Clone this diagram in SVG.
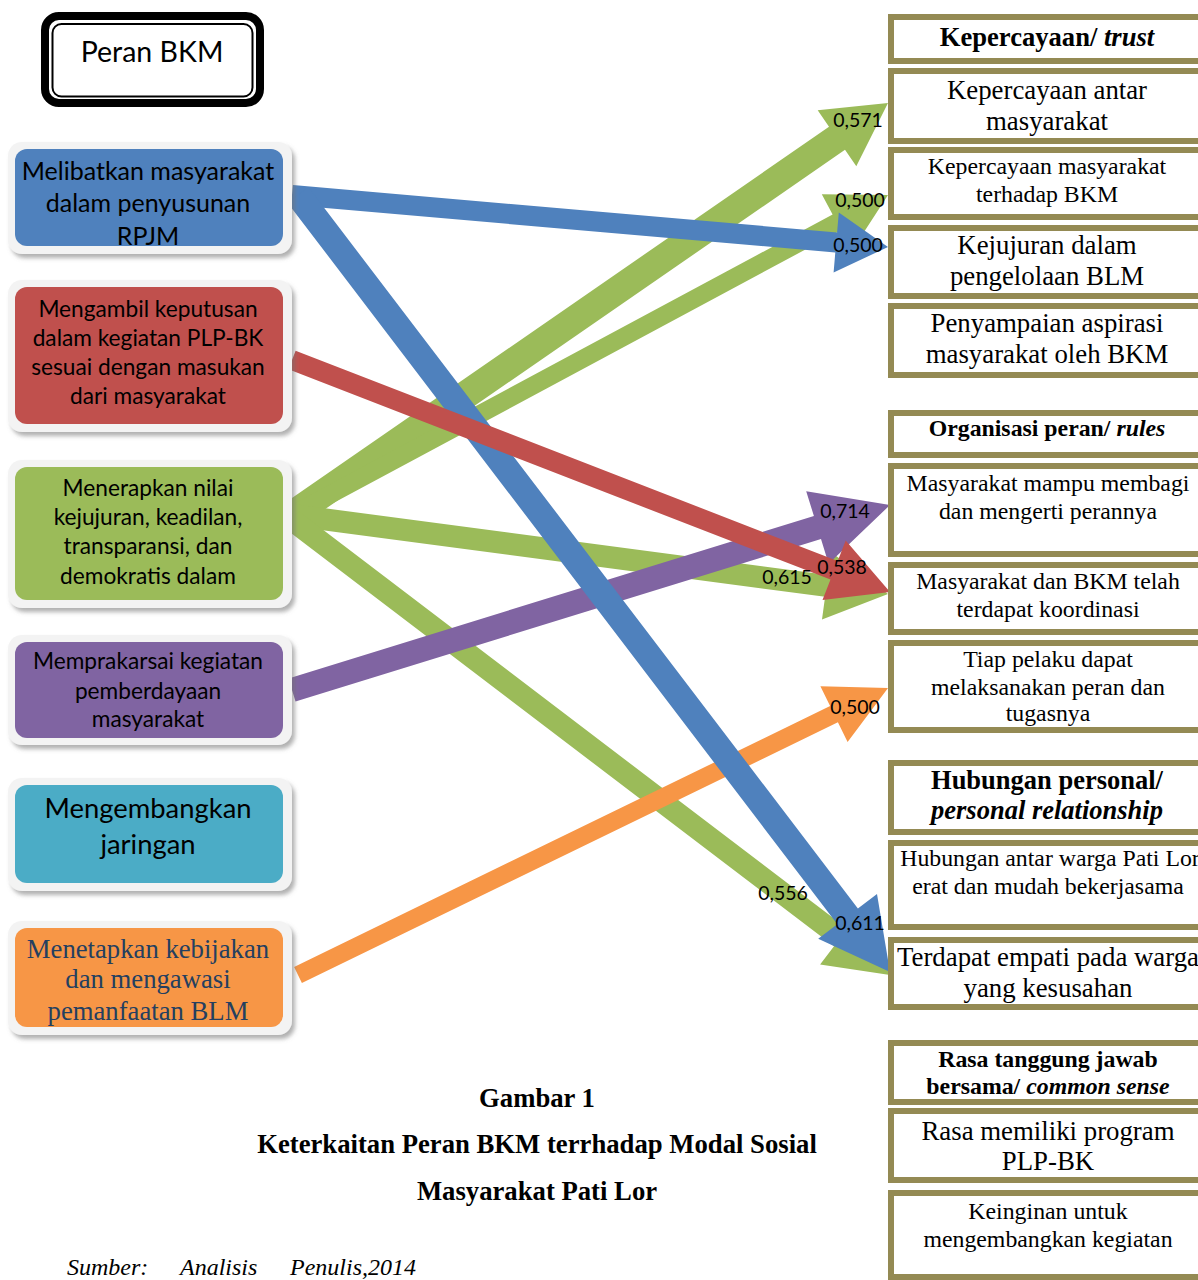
<svg xmlns="http://www.w3.org/2000/svg" width="1198" height="1280" viewBox="0 0 1198 1280">
<defs>
<style>
.frame{fill:#f3f3f3;filter:url(#sh)}
.cal{font-family:Lato,"Open Sans","Liberation Sans",sans-serif;fill:#000;text-anchor:middle}
.tnr{font-family:"Liberation Serif","Times New Roman",serif;fill:#000;text-anchor:middle}
.rbox{fill:#fff;stroke:#948a54;stroke-width:6}
.lbl{font-family:Lato,"Open Sans","Liberation Sans",sans-serif;font-size:19.5px;fill:#000;text-anchor:middle}
.b{font-weight:bold}
.i{font-style:italic}
.s1{font-size:23.8px}
.s2{font-size:26.8px}
</style>
<filter id="sh" x="-10%" y="-10%" width="125%" height="130%">
<feDropShadow dx="3" dy="4" stdDeviation="2" flood-color="#6f6f6f" flood-opacity="0.55"/>
</filter>
<clipPath id="c1"><rect x="15" y="149" width="268" height="97" rx="12"/></clipPath>
<clipPath id="c6"><rect x="15" y="928" width="268" height="99" rx="12"/></clipPath>
</defs>
<rect width="1198" height="1280" fill="#fff"/>

<g id="connectors">
<polygon fill="#9bbb59" points="300.0,526.5 845.0,149.8 856.3,166.3 888,103 817.7,110.3 829.0,126.8 284.0,503.5"/>
<polygon fill="#9bbb59" points="296.3,522.9 841.2,230.3 852.0,250.6 888,195 821.8,194.2 832.6,214.5 287.7,507.1"/>
<polygon fill="#9bbb59" points="290.6,525.9 825.1,596.8 822.0,619.6 888,594 831.0,552.2 828.0,575.0 293.5,504.1"/>
<polygon fill="#9bbb59" points="285.3,528.8 834.0,946.3 820.1,964.6 890,975 861.3,910.4 847.4,928.8 298.7,511.3"/>
<polygon fill="#8064a2" points="295.5,701.5 821.0,539.0 828.6,563.8 890,505 806.2,491.2 813.9,516.0 288.5,678.5"/>
<polygon fill="#f79646" points="301.9,983.1 837.9,722.3 847.6,742.1 888,688 820.4,686.3 830.1,706.1 294.1,966.9"/>
<polygon fill="#4f81bd" points="291.1,205.0 835.3,252.5 833.6,272.4 888,247 838.8,212.6 837.1,232.5 292.9,185.0"/>
<polygon fill="#4f81bd" points="287.7,202.9 837.3,924.2 818.2,938.7 890,972 877.0,893.9 857.9,908.4 308.3,187.1"/>
<polygon fill="#c0504d" points="288.4,369.3 830.5,579.6 822.5,600.1 890,592 845.7,540.5 837.7,561.0 295.6,350.7"/>
</g>

<g id="title">
<rect x="45" y="16" width="215" height="87" rx="14" fill="#fff" stroke="#000" stroke-width="8"/>
<rect x="52.5" y="24" width="200" height="72.5" rx="9" fill="none" stroke="#000" stroke-width="2"/>
<text class="cal" x="152" y="62" font-size="28.5">Peran BKM</text>
</g>

<g id="n1">
<rect class="frame" x="8" y="142" width="284" height="112" rx="14"/>
<rect x="15" y="149" width="268" height="97" rx="12" fill="#4f81bd"/>
<g clip-path="url(#c1)">
<text class="cal" font-size="25"><tspan x="148" y="180">Melibatkan masyarakat</tspan><tspan x="148" y="212">dalam penyusunan</tspan><tspan x="148" y="245">RPJM</tspan></text>
</g>
</g>

<g id="n2">
<rect class="frame" x="8" y="280" width="284" height="152" rx="14"/>
<rect x="15" y="287" width="268" height="137" rx="12" fill="#c0504d"/>
<text class="cal" font-size="22.7"><tspan x="148" y="317">Mengambil keputusan</tspan><tspan x="148" y="346">dalam kegiatan PLP-BK</tspan><tspan x="148" y="375">sesuai dengan masukan</tspan><tspan x="148" y="404">dari masyarakat</tspan></text>
</g>

<g id="n3">
<rect class="frame" x="8" y="460" width="284" height="148" rx="14"/>
<rect x="15" y="467" width="268" height="133" rx="12" fill="#9bbb59"/>
<text class="cal" font-size="22.7"><tspan x="148" y="496">Menerapkan nilai</tspan><tspan x="148" y="525">kejujuran, keadilan,</tspan><tspan x="148" y="554">transparansi, dan</tspan><tspan x="148" y="584">demokratis dalam</tspan></text>
</g>

<g id="n4">
<rect class="frame" x="8" y="635" width="284" height="110" rx="14"/>
<rect x="15" y="642" width="268" height="96" rx="12" fill="#8064a2"/>
<text class="cal" font-size="22.7"><tspan x="148" y="669">Memprakarsai kegiatan</tspan><tspan x="148" y="699">pemberdayaan</tspan><tspan x="148" y="727">masyarakat</tspan></text>
</g>

<g id="n5">
<rect class="frame" x="8" y="778" width="284" height="113" rx="14"/>
<rect x="15" y="785" width="268" height="98" rx="12" fill="#4bacc6"/>
<text class="cal" font-size="27.4"><tspan x="148" y="818">Mengembangkan</tspan><tspan x="148" y="854">jaringan</tspan></text>
</g>

<g id="n6">
<rect class="frame" x="8" y="921" width="284" height="114" rx="14"/>
<rect x="15" y="928" width="268" height="99" rx="12" fill="#f79646"/>
<g clip-path="url(#c6)">
<text class="tnr" font-size="26.7" style="fill:#243f60"><tspan x="148" y="958">Menetapkan kebijakan</tspan><tspan x="148" y="988">dan mengawasi</tspan><tspan x="148" y="1020">pemanfaatan BLM</tspan></text>
</g>
</g>

<g id="trust">
<g id="r1h"><rect class="rbox" x="891" y="17" width="330" height="44"/><text class="tnr b" x="1047" y="46" font-size="26.6">Kepercayaan/ <tspan class="i">trust</tspan></text></g>
<g id="r1a"><rect class="rbox" x="891" y="71" width="330" height="70"/><text class="tnr s2"><tspan x="1047" y="99">Kepercayaan antar</tspan><tspan x="1047" y="130">masyarakat</tspan></text></g>
<g id="r1b"><rect class="rbox" x="891" y="150" width="330" height="67"/><text class="tnr s1"><tspan x="1047" y="174">Kepercayaan masyarakat</tspan><tspan x="1047" y="202">terhadap BKM</tspan></text></g>
<g id="r1c"><rect class="rbox" x="891" y="228" width="330" height="68"/><text class="tnr s2"><tspan x="1047" y="254">Kejujuran dalam</tspan><tspan x="1047" y="285">pengelolaan BLM</tspan></text></g>
<g id="r1d"><rect class="rbox" x="891" y="306" width="330" height="69"/><text class="tnr s2"><tspan x="1047" y="332">Penyampaian aspirasi</tspan><tspan x="1047" y="363">masyarakat oleh BKM</tspan></text></g>
</g>

<g id="rules">
<g id="r2h"><rect class="rbox" x="891" y="413" width="330" height="42"/><text class="tnr b s1" x="1047" y="436">Organisasi peran/ <tspan class="i">rules</tspan></text></g>
<g id="r2a"><rect class="rbox" x="891" y="466" width="330" height="88"/><text class="tnr s1"><tspan x="1048" y="491">Masyarakat mampu membagi</tspan><tspan x="1048" y="519">dan mengerti perannya</tspan></text></g>
<g id="r2b"><rect class="rbox" x="891" y="565" width="330" height="67"/><text class="tnr s1"><tspan x="1048" y="589">Masyarakat dan BKM telah</tspan><tspan x="1048" y="617">terdapat koordinasi</tspan></text></g>
<g id="r2c"><rect class="rbox" x="891" y="643" width="330" height="87"/><text class="tnr s1"><tspan x="1048" y="667">Tiap pelaku dapat</tspan><tspan x="1048" y="695">melaksanakan peran dan</tspan><tspan x="1048" y="721">tugasnya</tspan></text></g>
</g>

<g id="personal">
<g id="r3h"><rect class="rbox" x="891" y="763" width="330" height="69"/><text class="tnr b" font-size="26.5"><tspan x="1047" y="789">Hubungan personal/</tspan><tspan class="i" x="1047" y="819">personal relationship</tspan></text></g>
<g id="r3a"><rect class="rbox" x="891" y="843" width="330" height="84"/><text class="tnr s1"><tspan x="1050" y="866">Hubungan antar warga Pati Lor</tspan><tspan x="1048" y="894">erat dan mudah bekerjasama</tspan></text></g>
<g id="r3b"><rect class="rbox" x="891" y="940" width="330" height="67"/><text class="tnr s2"><tspan x="1048" y="966">Terdapat empati pada warga</tspan><tspan x="1048" y="997">yang kesusahan</tspan></text></g>
</g>

<g id="common">
<g id="r4h"><rect class="rbox" x="891" y="1043" width="330" height="59"/><text class="tnr b s1"><tspan x="1048" y="1067">Rasa tanggung jawab</tspan><tspan x="1048" y="1094">bersama/ <tspan class="i">common sense</tspan></tspan></text></g>
<g id="r4a"><rect class="rbox" x="891" y="1111" width="330" height="69"/><text class="tnr s2"><tspan x="1048" y="1140">Rasa memiliki program</tspan><tspan x="1048" y="1170">PLP-BK</tspan></text></g>
<g id="r4b"><rect class="rbox" x="891" y="1193" width="330" height="84"/><text class="tnr s1"><tspan x="1048" y="1219">Keinginan untuk</tspan><tspan x="1048" y="1247">mengembangkan kegiatan</tspan></text></g>
</g>

<g id="labels">
<text class="lbl" x="858" y="127">0,571</text>
<text class="lbl" x="860" y="207">0,500</text>
<text class="lbl" x="858" y="252">0,500</text>
<text class="lbl" x="845" y="518">0,714</text>
<text class="lbl" x="842" y="574">0,538</text>
<text class="lbl" x="787" y="584">0,615</text>
<text class="lbl" x="855" y="714">0,500</text>
<text class="lbl" x="783" y="900">0,556</text>
<text class="lbl" x="860" y="930">0,611</text>
</g>

<g id="caption">
<text class="tnr b" x="537" y="1107" font-size="26.7">Gambar 1</text>
<text class="tnr b" x="537" y="1153" font-size="26.7">Keterkaitan Peran BKM terrhadap Modal Sosial</text>
<text class="tnr b" x="537" y="1200" font-size="26.7">Masyarakat Pati Lor</text>
<text class="tnr i" font-size="24" style="text-anchor:start"><tspan x="67" y="1275">Sumber:</tspan><tspan x="180" y="1275">Analisis</tspan><tspan x="290" y="1275">Penulis,2014</tspan></text>
</g>
</svg>
